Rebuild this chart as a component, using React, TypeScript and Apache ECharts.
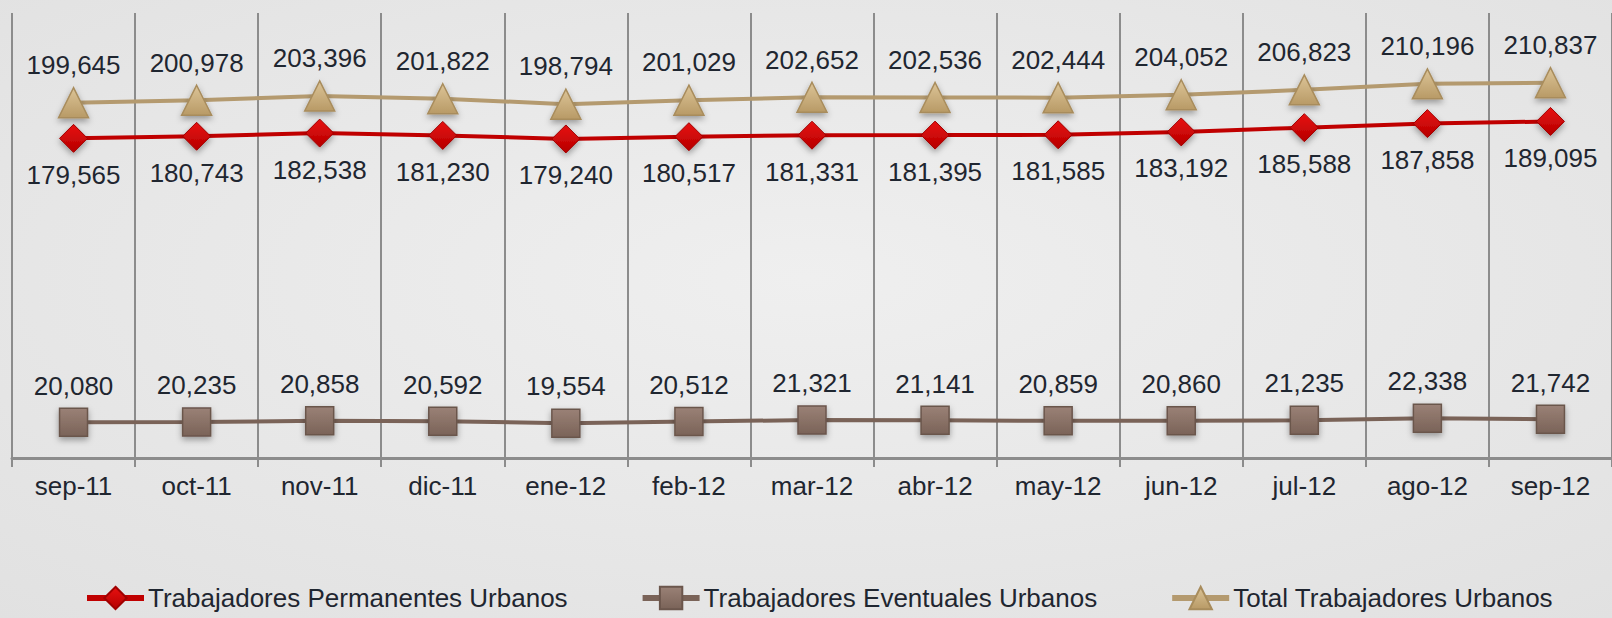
import React, { useEffect, useRef } from "react";
import * as echarts from "echarts";

const categories = ["sep-11", "oct-11", "nov-11", "dic-11", "ene-12", "feb-12", "mar-12", "abr-12", "may-12", "jun-12", "jul-12", "ago-12", "sep-12"];
const permanentes = [179565, 180743, 182538, 181230, 179240, 180517, 181331, 181395, 181585, 183192, 185588, 187858, 189095];
const eventuales = [20080, 20235, 20858, 20592, 19554, 20512, 21321, 21141, 20859, 20860, 21235, 22338, 21742];
const total = [199645, 200978, 203396, 201822, 198794, 201029, 202652, 202536, 202444, 204052, 206823, 210196, 210837];
const seriesNames = ["Trabajadores Permanentes Urbanos", "Trabajadores Eventuales Urbanos", "Total Trabajadores Urbanos"];

const FONT = "'Liberation Sans', Arial, sans-serif";
const TEXT = "#1f2630";

const fmt = (p: any) => Number(p.value).toLocaleString("en-US");

const grad = (a: string, b: string) =>
  new echarts.graphic.LinearGradient(0, 0, 0, 1, [
    { offset: 0, color: a },
    { offset: 1, color: b },
  ]);

export default function App() {
  const ref = useRef<HTMLDivElement>(null);
  useEffect(() => {
    if (!ref.current) return;
    const chart = echarts.init(ref.current, null, { renderer: "svg" });
    const label = (pos: string) => ({
      show: true,
      position: pos,
      distance: 9,
      formatter: fmt,
      fontSize: 26,
      fontFamily: FONT,
      color: TEXT,
    });
    chart.setOption({
      animation: false,
      backgroundColor: {
        type: "radial",
        x: 0.5,
        y: 0.45,
        r: 0.8,
        colorStops: [
          { offset: 0, color: "#efefef" },
          { offset: 1, color: "#e0e0e0" },
        ],
      },
      grid: { left: 12, right: -11, top: 13, bottom: 160, containLabel: false },
      legend: {
        left: 84,
        top: 584,
        padding: 0,
        itemGap: 72,
        itemWidth: 57,
        itemHeight: 28,
        lineStyle: { width: 6 },
        textStyle: { fontSize: 26, lineHeight: 28, fontFamily: FONT, color: TEXT, padding: [0, 0, 0, -1] },
        data: seriesNames,
      },
      xAxis: {
        type: "category",
        data: categories,
        boundaryGap: true,
        axisLine: { show: true, lineStyle: { color: "#8c8c8c", width: 3 } },
        axisTick: { show: true, length: 9, lineStyle: { color: "#8c8c8c", width: 2 } },
        splitLine: { show: true, lineStyle: { color: "#8c8c8c", width: 2 } },
        axisLabel: { fontSize: 26, fontFamily: FONT, color: TEXT, margin: 15 },
      },
      yAxis: {
        type: "value",
        min: 0,
        max: 250000,
        show: false,
        splitLine: { show: false },
      },
      series: [
        {
          name: seriesNames[0],
          type: "line",
          data: permanentes,
          symbol: "diamond",
          symbolSize: 28,
          lineStyle: { color: "#c00000", width: 4 },
          itemStyle: {
            color: grad("#e81010", "#b50000"),
            borderColor: "#a00000",
            borderWidth: 1,
            shadowBlur: 6,
            shadowColor: "rgba(0,0,0,0.35)",
            shadowOffsetY: 3,
          },
          label: label("bottom"),
          z: 3,
        },
        {
          name: seriesNames[1],
          type: "line",
          data: eventuales,
          symbol: "rect",
          symbolSize: 28,
          lineStyle: { color: "#7a6358", width: 4 },
          itemStyle: {
            color: grad("#9a8176", "#7a6358"),
            borderColor: "#6b564c",
            borderWidth: 1.5,
            shadowBlur: 6,
            shadowColor: "rgba(0,0,0,0.35)",
            shadowOffsetY: 3,
          },
          label: label("top"),
          z: 3,
        },
        {
          name: seriesNames[2],
          type: "line",
          data: total,
          symbol: "triangle",
          symbolSize: [30, 30],
          lineStyle: { color: "#b49a6f", width: 4 },
          itemStyle: {
            color: grad("#dcc497", "#b89a66"),
            borderColor: "#a88c5c",
            borderWidth: 1.5,
            shadowBlur: 6,
            shadowColor: "rgba(0,0,0,0.35)",
            shadowOffsetY: 3,
          },
          label: label("top"),
          z: 3,
        },
      ],
    });
    return () => chart.dispose();
  }, []);
  return <div ref={ref} style={{ width: 1612, height: 618, position: "absolute", left: 0, top: 0 }} />;
}
